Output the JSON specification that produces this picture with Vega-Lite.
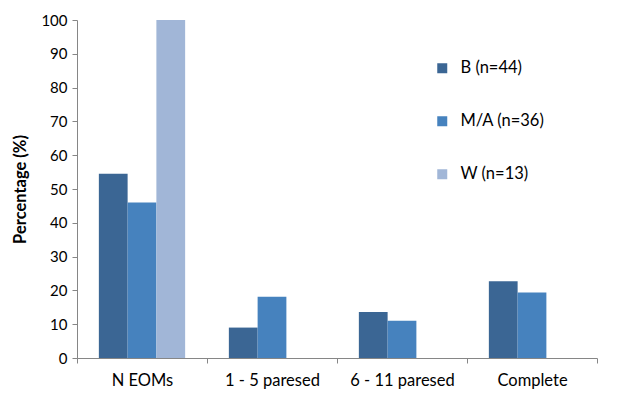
{
  "$schema": "https://vega.github.io/schema/vega-lite/v6.json",
  "autosize": {"type": "none"},
  "padding": {"left": 77, "top": 20, "right": 43, "bottom": 43},
  "width": 520,
  "height": 338,
  "background": "white",
  "config": {
    "font": "Lato",
    "view": {"stroke": null}
  },
  "data": {
    "values": [
      {"stage": "N EOMs", "group": "B (n=44)", "pct": 54.5},
      {"stage": "N EOMs", "group": "M/A (n=36)", "pct": 46.0},
      {"stage": "N EOMs", "group": "W (n=13)", "pct": 100},
      {"stage": "1 - 5 paresed", "group": "B (n=44)", "pct": 9.0},
      {"stage": "1 - 5 paresed", "group": "M/A (n=36)", "pct": 18.1},
      {"stage": "1 - 5 paresed", "group": "W (n=13)", "pct": 0},
      {"stage": "6 - 11 paresed", "group": "B (n=44)", "pct": 13.6},
      {"stage": "6 - 11 paresed", "group": "M/A (n=36)", "pct": 11.0},
      {"stage": "6 - 11 paresed", "group": "W (n=13)", "pct": 0},
      {"stage": "Complete", "group": "B (n=44)", "pct": 22.7},
      {"stage": "Complete", "group": "M/A (n=36)", "pct": 19.4},
      {"stage": "Complete", "group": "W (n=13)", "pct": 0}
    ]
  },
  "mark": {"type": "bar"},
  "encoding": {
    "x": {
      "field": "stage",
      "type": "nominal",
      "sort": ["N EOMs", "1 - 5 paresed", "6 - 11 paresed", "Complete"],
      "scale": {"paddingInner": 0, "paddingOuter": 0},
      "axis": {
        "title": null,
        "labelAngle": 0,
        "labelFontSize": 16.5,
        "labelColor": "#000000",
        "labelPadding": 9,
        "tickBand": "extent",
        "tickSize": 5,
        "tickColor": "#868686",
        "domainColor": "#868686"
      }
    },
    "xOffset": {
      "field": "group",
      "type": "nominal",
      "sort": ["B (n=44)", "M/A (n=36)", "W (n=13)"],
      "scale": {"paddingInner": 0, "paddingOuter": 0.76}
    },
    "y": {
      "field": "pct",
      "type": "quantitative",
      "scale": {"domain": [0, 100]},
      "axis": {
        "title": "Percentage (%)",
        "titleFontSize": 16.5,
        "titleFontWeight": "bold",
        "titleColor": "#000000",
        "titlePadding": 12,
        "values": [0, 10, 20, 30, 40, 50, 60, 70, 80, 90, 100],
        "labelFontSize": 15,
        "labelColor": "#000000",
        "labelPadding": 5,
        "tickSize": 5,
        "tickColor": "#868686",
        "domainColor": "#868686",
        "grid": false
      }
    },
    "color": {
      "field": "group",
      "type": "nominal",
      "sort": ["B (n=44)", "M/A (n=36)", "W (n=13)"],
      "scale": {"range": ["#3B6694", "#4682BE", "#A1B6D7"]},
      "legend": {
        "title": null,
        "orient": "none",
        "legendX": 357,
        "legendY": 40,
        "symbolType": "square",
        "symbolSize": 100,
        "symbolStrokeWidth": 0,
        "labelFontSize": 16.5,
        "labelColor": "#000000",
        "labelOffset": 10,
        "rowPadding": 36
      }
    }
  }
}
